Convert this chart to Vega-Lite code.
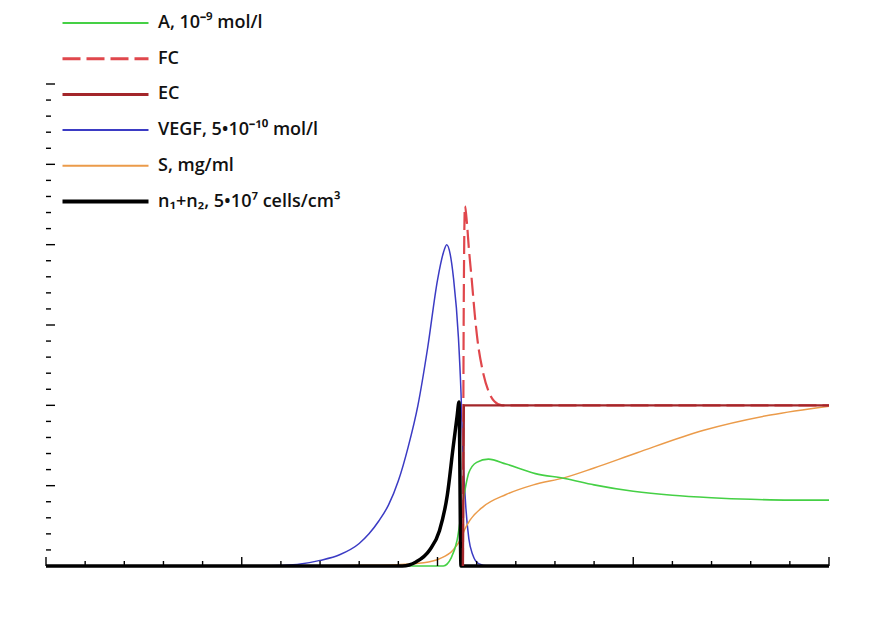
{
  "$schema": "https://vega.github.io/schema/vega-lite/v6.json",
  "width": 783,
  "height": 482,
  "autosize": {"type": "none"},
  "padding": {"left": 46, "top": 84, "right": 49, "bottom": 60},
  "background": "white",
  "config": {"view": {"stroke": null}, "font": "Open Sans"},
  "datasets": {
    "curves": [
      {"s":"VEGF","x":0,"y":0},{"s":"VEGF","x":11,"y":0},{"s":"VEGF","x":12,"y":0.003},{"s":"VEGF","x":13,"y":0.012},{"s":"VEGF","x":14,"y":0.035},{"s":"VEGF","x":15,"y":0.07},{"s":"VEGF","x":16,"y":0.14},{"s":"VEGF","x":16.5,"y":0.2},{"s":"VEGF","x":17,"y":0.28},{"s":"VEGF","x":17.5,"y":0.38},{"s":"VEGF","x":18,"y":0.53},{"s":"VEGF","x":18.5,"y":0.74},{"s":"VEGF","x":19,"y":1.0},{"s":"VEGF","x":19.5,"y":1.36},{"s":"VEGF","x":20.0,"y":1.78},{"s":"VEGF","x":20.3,"y":1.95},{"s":"VEGF","x":20.47,"y":2.0},{"s":"VEGF","x":20.65,"y":1.94},{"s":"VEGF","x":20.81,"y":1.8},{"s":"VEGF","x":21.07,"y":1.42},{"s":"VEGF","x":21.2,"y":1.08},{"s":"VEGF","x":21.3,"y":0.7},{"s":"VEGF","x":21.45,"y":0.36},{"s":"VEGF","x":21.6,"y":0.17},{"s":"VEGF","x":21.8,"y":0.07},{"s":"VEGF","x":22.1,"y":0.015},{"s":"VEGF","x":22.6,"y":0},{"s":"VEGF","x":40,"y":0},
      {"s":"S","x":0,"y":0},{"s":"S","x":14,"y":0},{"s":"S","x":16,"y":0.004},{"s":"S","x":17.9,"y":0.008},{"s":"S","x":19.3,"y":0.02},{"s":"S","x":20.1,"y":0.045},{"s":"S","x":20.8,"y":0.1},{"s":"S","x":21.2,"y":0.17},{"s":"S","x":21.4,"y":0.23},{"s":"S","x":21.66,"y":0.285},{"s":"S","x":22.34,"y":0.37},{"s":"S","x":23.5,"y":0.445},{"s":"S","x":24.9,"y":0.505},{"s":"S","x":26.5,"y":0.55},{"s":"S","x":28,"y":0.61},{"s":"S","x":30.2,"y":0.705},{"s":"S","x":33.6,"y":0.845},{"s":"S","x":37,"y":0.94},{"s":"S","x":40,"y":0.995},
      {"s":"A","x":0,"y":0},{"s":"A","x":20.3,"y":0},{"s":"A","x":20.7,"y":0.05},{"s":"A","x":21.0,"y":0.16},{"s":"A","x":21.3,"y":0.4},{"s":"A","x":21.6,"y":0.58},{"s":"A","x":22.0,"y":0.645},{"s":"A","x":22.6,"y":0.665},{"s":"A","x":23.5,"y":0.635},{"s":"A","x":25,"y":0.575},{"s":"A","x":26.5,"y":0.545},{"s":"A","x":28,"y":0.505},{"s":"A","x":30,"y":0.465},{"s":"A","x":32,"y":0.44},{"s":"A","x":34,"y":0.425},{"s":"A","x":36,"y":0.415},{"s":"A","x":38,"y":0.41},{"s":"A","x":40,"y":0.41},
      {"s":"N","x":0,"y":0},{"s":"N","x":18.2,"y":0},{"s":"N","x":18.9,"y":0.025},{"s":"N","x":19.6,"y":0.1},{"s":"N","x":20.1,"y":0.22},{"s":"N","x":20.5,"y":0.44},{"s":"N","x":20.8,"y":0.74},{"s":"N","x":21.0,"y":0.93},{"s":"N","x":21.1,"y":1.02},{"s":"N","x":21.2,"y":0},{"s":"N","x":40,"y":0},
      {"s":"FC","x":21.3,"y":0},{"s":"FC","x":21.34,"y":1.6},{"s":"FC","x":21.4,"y":2.24},{"s":"FC","x":21.5,"y":2.14},{"s":"FC","x":21.6,"y":1.98},{"s":"FC","x":21.75,"y":1.78},{"s":"FC","x":21.9,"y":1.57},{"s":"FC","x":22.05,"y":1.4},{"s":"FC","x":22.3,"y":1.22},{"s":"FC","x":22.6,"y":1.09},{"s":"FC","x":22.9,"y":1.025},{"s":"FC","x":23.3,"y":1.0},{"s":"FC","x":40,"y":1.0},
      {"s":"EC","x":21.3,"y":0},{"s":"EC","x":21.35,"y":1.0},{"s":"EC","x":40,"y":1.0}
    ],
    "xticks": [
      {"v":0,"major":true},{"v":2,"major":false},{"v":4,"major":false},{"v":6,"major":false},{"v":8,"major":false},{"v":10,"major":true},{"v":12,"major":false},{"v":14,"major":false},{"v":16,"major":false},{"v":18,"major":false},{"v":20,"major":true},{"v":22,"major":false},{"v":24,"major":false},{"v":26,"major":false},{"v":28,"major":false},{"v":30,"major":true},{"v":32,"major":false},{"v":34,"major":false},{"v":36,"major":false},{"v":38,"major":false},{"v":40,"major":true}
    ],
    "yticks": [
      {"v":0,"major":true},{"v":0.1,"major":false},{"v":0.2,"major":false},{"v":0.3,"major":false},{"v":0.4,"major":false},{"v":0.5,"major":true},{"v":0.6,"major":false},{"v":0.7,"major":false},{"v":0.8,"major":false},{"v":0.9,"major":false},{"v":1.0,"major":true},{"v":1.1,"major":false},{"v":1.2,"major":false},{"v":1.3,"major":false},{"v":1.4,"major":false},{"v":1.5,"major":true},{"v":1.6,"major":false},{"v":1.7,"major":false},{"v":1.8,"major":false},{"v":1.9,"major":false},{"v":2.0,"major":true},{"v":2.1,"major":false},{"v":2.2,"major":false},{"v":2.3,"major":false},{"v":2.4,"major":false},{"v":2.5,"major":true},{"v":2.6,"major":false},{"v":2.7,"major":false},{"v":2.8,"major":false},{"v":2.9,"major":false},{"v":3.0,"major":true}
    ]
  },
  "layer": [
    {
      "data": {"name": "curves"},
      "encoding": {
        "x": {"field": "x", "type": "quantitative", "scale": {"domain": [0, 40], "nice": false, "zero": false},
          "axis": {"orient": "bottom", "values": [0,10,20,30,40], "ticks": false,
            "domainColor": "black", "domainWidth": 1.5, "grid": false, "labelFlush": false,
            "labelFont": "Liberation Sans", "labelFontSize": 13, "labelColor": "#666666", "labelPadding": 9,
            "title": "x,mm", "titleFont": "Open Sans", "titleFontWeight": "bold", "titleFontSize": 16, "titleColor": "#111111",
            "titleAnchor": "end", "titleAlign": "right", "titleX": 832, "titleY": 48, "titleBaseline": "alphabetic"}},
        "y": {"field": "y", "type": "quantitative", "scale": {"domain": [0, 3], "nice": false},
          "axis": {"orient": "left", "values": [0,0.5,1,1.5,2,2.5,3], "format": ".1f", "ticks": false,
            "domainColor": "black", "domainWidth": 1.5, "grid": false, "labelFlush": false,
            "labelFont": "Liberation Serif", "labelFontSize": 14, "labelColor": "#555555", "labelPadding": 8, "title": null}},
        "color": {"field": "s", "type": "nominal",
          "scale": {"domain": ["A","FC","EC","VEGF","S","N"], "range": ["#45d045","#e0474c","#a3262a","#3b3bc4","#eb9b4a","#000000"]},
          "legend": {
            "orient": "none", "legendX": 50.5, "legendY": -70, "title": null,
            "symbolType": "M-4.3,0H4.3", "symbolSize": 400, "symbolStrokeWidth": 2,
            "labelFont": "Open Sans", "labelFontSize": 18, "labelFontWeight": 600, "labelColor": "#111111",
            "labelOffset": 43.5, "rowPadding": 17.7, "padding": 0, "labelLimit": 400,
            "labelExpr": "datum.label === 'A' ? 'A, 10⁻⁹ mol/l' : datum.label === 'VEGF' ? 'VEGF, 5•10⁻¹⁰ mol/l' : datum.label === 'S' ? 'S, mg/ml' : datum.label === 'N' ? 'n₁+n₂, 5•10⁷ cells/cm³' : datum.label",
            "encode": {"symbols": {"update": {
              "strokeWidth": {"signal": "datum.value === 'N' ? 4 : (datum.value === 'EC' || datum.value === 'FC') ? 3 : 2"},
              "strokeDash": {"signal": "datum.value === 'FC' ? [18, 6] : [1, 0]"},
              "fill": {"value": "transparent"}
            }}}
          }
        }
      },
      "layer": [
        {"transform": [{"filter": "datum.s === 'VEGF'"}], "mark": {"type": "line", "interpolate": "monotone", "strokeWidth": 1.5}},
        {"transform": [{"filter": "datum.s === 'S'"}], "mark": {"type": "line", "interpolate": "monotone", "strokeWidth": 1.5}},
        {"transform": [{"filter": "datum.s === 'A'"}], "mark": {"type": "line", "interpolate": "monotone", "strokeWidth": 1.6}},
        {"transform": [{"filter": "datum.s === 'N'"}], "mark": {"type": "line", "interpolate": "monotone", "strokeWidth": 3.5}},
        {"transform": [{"filter": "datum.s === 'FC'"}], "mark": {"type": "line", "interpolate": "monotone", "strokeWidth": 2.2, "strokeDash": [18, 6]}},
        {"transform": [{"filter": "datum.s === 'EC'"}], "mark": {"type": "line", "interpolate": "linear", "strokeWidth": 2.2}}
      ]
    },
    {
      "data": {"name": "xticks"},
      "transform": [{"filter": "datum.major"}],
      "mark": {"type": "tick", "orient": "vertical", "size": 9, "thickness": 1.4, "color": "black", "opacity": 1, "yOffset": -4.5},
      "encoding": {"x": {"field": "v", "type": "quantitative", "axis": null}, "y": {"datum": 0, "type": "quantitative", "axis": null}}
    },
    {
      "data": {"name": "xticks"},
      "transform": [{"filter": "!datum.major"}],
      "mark": {"type": "tick", "orient": "vertical", "size": 5, "thickness": 1.4, "color": "black", "opacity": 1, "yOffset": -2.5},
      "encoding": {"x": {"field": "v", "type": "quantitative", "axis": null}, "y": {"datum": 0, "type": "quantitative", "axis": null}}
    },
    {
      "data": {"name": "yticks"},
      "transform": [{"filter": "datum.major"}],
      "mark": {"type": "tick", "orient": "horizontal", "size": 9, "thickness": 1.4, "color": "black", "opacity": 1, "xOffset": 4.5},
      "encoding": {"y": {"field": "v", "type": "quantitative", "axis": null}, "x": {"datum": 0, "type": "quantitative", "axis": null}}
    },
    {
      "data": {"name": "yticks"},
      "transform": [{"filter": "!datum.major"}],
      "mark": {"type": "tick", "orient": "horizontal", "size": 5, "thickness": 1.4, "color": "black", "opacity": 1, "xOffset": 2.5},
      "encoding": {"y": {"field": "v", "type": "quantitative", "axis": null}, "x": {"datum": 0, "type": "quantitative", "axis": null}}
    }
  ]
}
